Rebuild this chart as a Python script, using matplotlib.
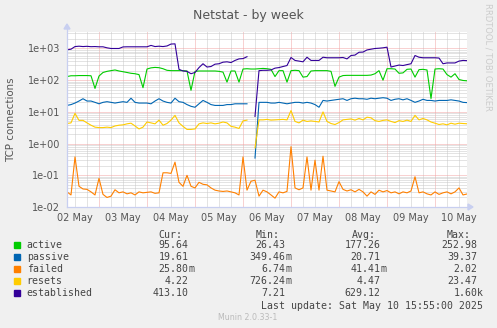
import numpy as np
import pandas as pd
import matplotlib
matplotlib.use("Agg")
import matplotlib.pyplot as plt
from matplotlib.lines import Line2D
from matplotlib.patches import Rectangle, Polygon
from matplotlib.ticker import FuncFormatter, NullLocator

nan = np.nan
W, H = 497, 328

# 2-hourly samples from Fri 02 May 08:00 to Sat 10 May 16:00
times = pd.date_range("2025-05-02 08:00", periods=101, freq="2h")
day_labels = ["02 May", "03 May", "04 May", "05 May", "06 May",
              "07 May", "08 May", "09 May", "10 May"]

active = [130, 138, 138, 140, 140, 140, 138, 55, 135, 175,
          190, 200, 210, 195, 185, 175, 165, 160, 150, 58,
          225, 245, 253, 248, 230, 205, 200, 200, 200, 200,
          195, 48, 190, 195, 195, 195, 195, 195, 190, 180,
          87, 195, 195, 87, 225, 230, 225, 225, 230, 235,
          230, 220, 130, 200, 200, 87, 200, 205, 200, 125,
          130, 195, 200, 200, 200, 200, 190, 64, 125, 140,
          142, 142, 142, 142, 142, 142, 145, 160, 200, 100,
          230, 230, 225, 165, 170, 220, 225, 125, 215, 220,
          210, 26.43, 225, 230, 225, 150, 125, 160, 105, 98,
          95.64]

passive = [16, 17, 19, 22, 26, 22, 22, 20, 18, 20,
           21, 20, 19, 20, 21, 20, 27, 20, 19, 19,
           19, 18, 22, 26, 22, 20, 19, 27, 21, 20,
           17, 15, 14, 18, 23, 20, 17, 16, 16, 16,
           17, 17, 18, 18, 18, 18, nan, 0.35, 20, 20,
           20, 19, 19, 20, 19, 18, 19, 20, 20, 19,
           20, 19, 17, 14, 23, 22, 23, 24, 25, 26,
           23, 26, 27, 26, 26, 25, 27, 26, 27, 28,
           27, 23, 25, 26, 24, 26, 23, 20, 22, 25,
           23, 23, 22, 23, 23, 23, 24, 23, 22, 20,
           19.61]

failed = [0.030, 0.024, 0.38, 0.045, 0.037, 0.036, 0.030, 0.024, 0.08, 0.025,
          0.020, 0.022, 0.035, 0.028, 0.030, 0.026, 0.028, 0.024, 0.030, 0.028,
          0.029, 0.030, 0.027, 0.028, 0.12, 0.12, 0.115, 0.26, 0.06, 0.045,
          0.10, 0.045, 0.040, 0.060, 0.052, 0.050, 0.040, 0.034, 0.032, 0.031,
          0.032, 0.030, 0.028, 0.024, 0.38, 0.034, 0.065, 0.07, 0.022, 0.034,
          0.030, 0.024, 0.019, 0.030, 0.028, 0.031, 0.8, 0.040, 0.035, 0.040,
          0.38, 0.034, 0.30, 0.034, 0.40, 0.034, 0.032, 0.030, 0.063, 0.036,
          0.032, 0.035, 0.030, 0.036, 0.030, 0.022, 0.030, 0.025, 0.034, 0.030,
          0.033, 0.028, 0.030, 0.026, 0.030, 0.028, 0.032, 0.09, 0.028, 0.030,
          0.026, 0.024, 0.030, 0.025, 0.028, 0.030, 0.026, 0.030, 0.040, 0.024,
          0.0258]

resets = [4.3, 4.5, 9, 5.4, 5.4, 4.5, 3.8, 3.3, 3.2, 3.2,
          3.3, 3.2, 3.6, 3.8, 3.9, 4.2, 4.4, 3.6, 2.9, 3.3,
          4.8, 4.5, 4.2, 5.5, 3.8, 4.3, 5.5, 7.8, 4.5, 3.5,
          2.8, 2.8, 2.9, 4.2, 4.5, 4.3, 4.5, 4.2, 4.4, 4.8,
          4.5, 3.5, 3.3, 3.0, 5.2, 5.5, nan, 0.73, 5.6, 5.6,
          5.8, 5.5, 5.6, 5.7, 5.8, 5.6, 11, 5.0, 4.5, 5.5,
          5.0, 5.2, 5.0, 4.8, 10, 5.0, 4.3, 4.0, 4.6, 5.6,
          5.8, 6.0, 5.5, 6.2, 5.6, 6.8, 6.5, 5.3, 5.0, 5.4,
          5.6, 5.0, 4.6, 5.3, 5.0, 5.5, 5.0, 7.8, 5.6, 6.2,
          5.6, 4.8, 4.4, 4.0, 4.2, 3.9, 4.4, 4.1, 4.4, 4.3,
          4.22]

established = [910, 950, 1150, 1180, 1150, 1170, 1140, 1150, 1130, 1130,
               1050, 1000, 1000, 1000, 1120, 1130, 1130, 1130, 1130, 1130,
               1130, 1250, 1150, 1180, 1150, 1200, 1380, 1400, 220, 195,
               190, 160, 175, 250, 330, 260, 270, 320, 330, 370,
               380, 360, 420, 470, 480, 550, nan, 7.21, 200, 205,
               205, 210, 240, 250, 270, 290, 520, 420, 400, 380,
               530, 420, 420, 420, 530, 510, 510, 510, 510, 520,
               470, 600, 620, 760, 770, 900, 950, 1000, 1020, 1050,
               1100, 260, 280, 300, 290, 310, 330, 600, 530, 510,
               510, 510, 510, 500, 330, 350, 350, 350, 400, 420,
               413.10]

names = ["active", "passive", "failed", "resets", "established"]
series = [active, passive, failed, resets, established]
colors = ["#00cc00", "#0066b3", "#ff8000", "#ffcc00", "#330099"]

cur_vals = ["95.64", "19.61", "25.80m", "4.22", "413.10"]
min_vals = ["26.43", "349.46m", "6.74m", "726.24m", "7.21"]
avg_vals = ["177.26", "20.71", "41.41m", "4.47", "629.12"]
max_vals = ["252.98", "39.37", "2.02", "23.47", "1.60k"]


def fx(x):
    return x / W


def fy(y):
    return 1 - y / H


fig = plt.figure(figsize=(W / 100, H / 100), dpi=100, facecolor="#f0f0f0")
ax = fig.add_axes([fx(67), fy(207), 400 / W, 175 / H])
ax.set_facecolor("white")
ax.set_yscale("log")
ax.set_ylim(1e-2, 10 ** 3.52)
ax.set_xlim(times[0], times[-1])
for sp in ax.spines.values():
    sp.set_visible(False)

minor_c = "#c8c8c8"
major_c = "#f2a4a4"
grid_kw = dict(lw=0.72, ls=(0, (1, 1)), zorder=1)

# vertical grid: 6-hourly grey, midnight red
for t in pd.date_range("2025-05-02 12:00", "2025-05-10 12:00", freq="6h"):
    if t.hour != 0:
        ax.axvline(t, color=minor_c, **grid_kw)
for t in pd.date_range("2025-05-03", "2025-05-10", freq="D"):
    ax.axvline(t, color=major_c, **grid_kw)

# horizontal grid: decades red, 2..9 grey
for k in range(-2, 4):
    for m in range(2, 10):
        if m * 10.0 ** k < 10 ** 3.52:
            ax.axhline(m * 10.0 ** k, color=minor_c, **grid_kw)
    ax.axhline(10.0 ** k, color=major_c, **grid_kw)

for vals, c in zip(series, colors):
    ax.plot(times, vals, color=c, lw=0.8, zorder=3)

ax.set_yticks([10.0 ** k for k in range(-2, 4)])
ax.yaxis.set_major_formatter(FuncFormatter(lambda v, p: f"{v:.0e}"))
ax.yaxis.set_minor_locator(NullLocator())
noons = pd.date_range("2025-05-02 12:00", periods=len(day_labels), freq="D")
ax.set_xticks(noons)
ax.set_xticklabels(day_labels)
ax.xaxis.set_minor_locator(NullLocator())
ax.tick_params(axis="both", length=0, labelsize=7, colors="#555555")
ax.tick_params(axis="x", pad=4.3)
ax.tick_params(axis="y", pad=5)

# axis lines with arrow heads
axis_c = "#c8cff0"
fig.add_artist(Line2D([fx(67), fx(67)], [fy(207), fy(27)], transform=fig.transFigure,
                      color=axis_c, lw=0.9))
fig.add_artist(Line2D([fx(67), fx(469)], [fy(207), fy(207)], transform=fig.transFigure,
                      color=axis_c, lw=0.9))
fig.add_artist(Polygon([[fx(64), fy(29)], [fx(70), fy(29)], [fx(67), fy(24)]],
                       closed=True, transform=fig.transFigure, color=axis_c))
fig.add_artist(Polygon([[fx(468), fy(204)], [fx(468), fy(210)], [fx(473), fy(207)]],
                       closed=True, transform=fig.transFigure, color=axis_c))

fig.text(fx(248), fy(18.5), "Netstat - by week", ha="center", va="baseline",
         size=9, color="#555555")
fig.text(fx(11), fy(120), "TCP connections", rotation=90, ha="center", va="center",
         size=7.4, color="#555555")
fig.text(fx(488), fy(57), "RRDTOOL / TOBI OETIKER", rotation=270, ha="center",
         va="center", size=6, color="#cccccc")

# legend table
mono = "DejaVu Sans Mono"
txt_c = "#444444"
heads = [("Cur:", 158.3), ("Min:", 256), ("Avg:", 352), ("Max:", 447)]
for label, x in heads:
    fig.text(fx(x), fy(237.5), label, ha="left", va="baseline", family=mono,
             size=7.1, color=txt_c)

col_edges = [194.3, 291.7, 386.7, 483.3]
for i, (name, c) in enumerate(zip(names, colors)):
    base = 248.5 + 12 * i
    fig.add_artist(Rectangle((fx(14), fy(base - 0.5)), 6 / W, 6 / H,
                             transform=fig.transFigure, color=c))
    fig.text(fx(26.7), fy(base), name, ha="left", va="baseline", family=mono,
             size=7.1, color=txt_c)
    row = [cur_vals[i], min_vals[i], avg_vals[i], max_vals[i]]
    for s, edge in zip(row, col_edges):
        num, unit = (s[:-1], s[-1]) if s[-1] in "mk" else (s, "")
        fig.text(fx(edge - 6), fy(base), num, ha="right", va="baseline",
                 family=mono, size=7.1, color=txt_c)
        if unit:
            fig.text(fx(edge - 6), fy(base), unit, ha="left", va="baseline",
                     family=mono, size=7.1, color=txt_c)

fig.text(fx(483.3), fy(309), "Last update: Sat May 10 15:55:00 2025", ha="right",
         va="baseline", family=mono, size=7.1, color=txt_c)
fig.text(fx(248), fy(320), "Munin 2.0.33-1", ha="center", va="baseline",
         size=5.7, color="#bbbbbb")

fig.savefig("out.png", dpi=100, facecolor=fig.get_facecolor())
